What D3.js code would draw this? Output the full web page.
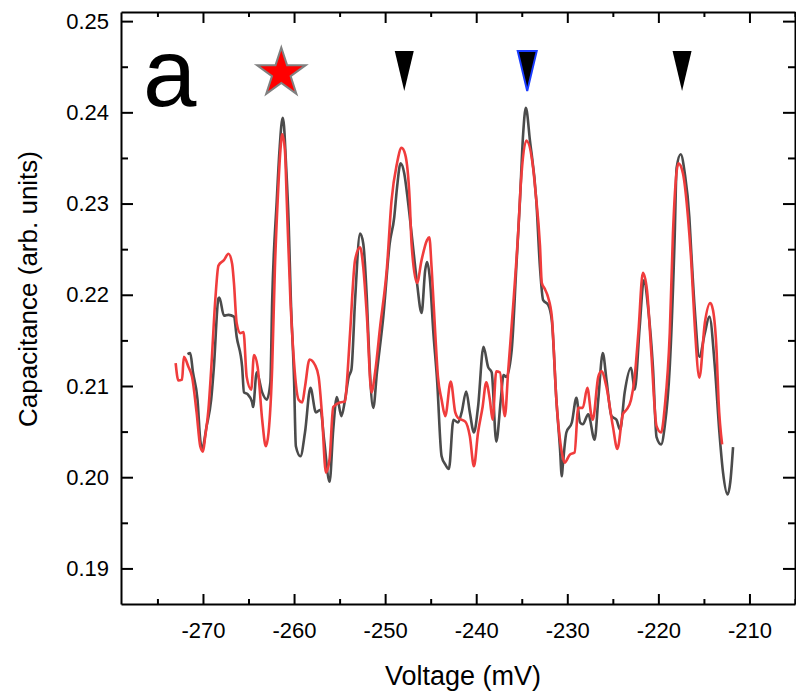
<!DOCTYPE html>
<html>
<head>
<meta charset="utf-8">
<script src="https://cdn.jsdelivr.net/npm/d3@7"></script>
<style>
  body { margin: 0; background: #fff; }
  text { font-family: "Liberation Sans", Arial, sans-serif; }
</style>
</head>
<body>
<div id="chart"></div>
<script>
// voltage (mV) / capacitance (arb. units)
const grayV = [-271.7, -271.4, -271.1, -270.6, -270.3, -270.1, -269.6, -269.1, -268.8, -268.3, -268.2, -267.7, -267.2, -266.6, -266.3, -265.7, -265.5, -265.1, -264.6, -264.5, -264.1, -263.5, -263.0, -262.6, -262.4, -261.9, -261.6, -261.25, -261.1, -260.9, -260.6, -260.35, -260.0, -259.8, -259.3, -258.8, -258.2, -257.6, -257.1, -256.7, -256.1, -255.7, -255.3, -254.8, -254.4, -254.0, -253.7, -253.3, -252.75, -252.4, -252.0, -251.7, -251.3, -250.9, -250.2, -249.5, -249.0, -248.7, -248.3, -247.9, -247.5, -246.9, -246.5, -246.0, -245.6, -245.4, -245.1, -244.7, -244.3, -243.8, -243.4, -243.0, -242.5, -242.0, -241.6, -241.1, -240.7, -240.25, -239.8, -239.2, -238.7, -238.3, -237.8, -237.3, -237.0, -236.7, -236.1, -235.6, -235.2, -234.85, -234.55, -234.1, -233.4, -233.0, -232.65, -232.1, -231.7, -231.2, -230.8, -230.6, -230.5, -230.1, -229.5, -229.0, -228.6, -228.3, -227.7, -227.0, -226.6, -226.1, -225.7, -225.15, -224.6, -224.2, -223.7, -223.0, -222.6, -222.05, -221.6, -221.1, -220.6, -220.2, -219.7, -219.3, -218.75, -218.2, -218.0, -217.55, -217.1, -216.6, -216.4, -216.0, -215.5, -214.9, -214.4, -213.8, -213.3, -212.9, -212.4, -212.1, -211.8];
const grayC = [0.2135, 0.2136, 0.2115, 0.2085, 0.2041, 0.2031, 0.2056, 0.2085, 0.2121, 0.2196, 0.2197, 0.2177, 0.2178, 0.2176, 0.2154, 0.2121, 0.2093, 0.2091, 0.2082, 0.2077, 0.2115, 0.2093, 0.2085, 0.2104, 0.2194, 0.2303, 0.2358, 0.2394, 0.2385, 0.2347, 0.2281, 0.2194, 0.2107, 0.2034, 0.2023, 0.2049, 0.2098, 0.2071, 0.2074, 0.2041, 0.1995, 0.2052, 0.2088, 0.2067, 0.2085, 0.2110, 0.2118, 0.2194, 0.2267, 0.2256, 0.2194, 0.2121, 0.2076, 0.2115, 0.2176, 0.2256, 0.2285, 0.2317, 0.2344, 0.2333, 0.2303, 0.2249, 0.2213, 0.2180, 0.2227, 0.2236, 0.2219, 0.2158, 0.2107, 0.2023, 0.2014, 0.2009, 0.2063, 0.2060, 0.2071, 0.2094, 0.2071, 0.2049, 0.2077, 0.2143, 0.2121, 0.2115, 0.2039, 0.2085, 0.2112, 0.2110, 0.2140, 0.2230, 0.2303, 0.2376, 0.2405, 0.2369, 0.2303, 0.2230, 0.2194, 0.2189, 0.2172, 0.2085, 0.2031, 0.2001, 0.2012, 0.2049, 0.2060, 0.2087, 0.2060, 0.2058, 0.2069, 0.2041, 0.2085, 0.2136, 0.2107, 0.2067, 0.2063, 0.2052, 0.2093, 0.2120, 0.2096, 0.2165, 0.2216, 0.2183, 0.2121, 0.2044, 0.2036, 0.2056, 0.2121, 0.2267, 0.2339, 0.2354, 0.2333, 0.2285, 0.2249, 0.2183, 0.2132, 0.2158, 0.2176, 0.2121, 0.2049, 0.2005, 0.1981, 0.1995, 0.2033];

const redV = [-273.0, -272.7, -272.3, -272.1, -271.6, -271.2, -270.7, -270.3, -270.0, -269.75, -269.4, -269.1, -268.65, -268.3, -267.7, -267.2, -266.8, -266.6, -266.3, -265.9, -265.55, -265.2, -264.7, -264.4, -264.0, -263.5, -263.1, -262.8, -262.4, -262.1, -261.8, -261.5, -261.3, -261.0, -260.8, -260.4, -260.1, -259.5, -259.1, -258.8, -258.3, -257.7, -257.3, -256.95, -256.5, -256.1, -255.7, -254.95, -254.4, -254.2, -253.85, -253.3, -252.75, -252.4, -252.0, -251.5, -251.1, -250.55, -249.8, -249.3, -248.7, -248.2, -247.8, -247.3, -247.1, -246.5, -246.0, -245.4, -245.15, -244.9, -244.5, -244.2, -243.8, -243.4, -242.8, -242.3, -242.0, -241.2, -240.7, -240.25, -239.8, -239.3, -238.9, -238.5, -238.2, -237.8, -237.4, -236.85, -236.5, -235.9, -235.4, -235.1, -234.5, -233.75, -233.5, -233.0, -232.8, -232.5, -232.1, -231.7, -231.2, -230.6, -230.3, -229.7, -229.2, -228.8, -228.3, -227.8, -227.35, -227.2, -226.6, -226.25, -225.7, -225.0, -224.5, -223.9, -223.5, -223.0, -222.6, -222.2, -221.7, -221.25, -220.8, -220.2, -219.7, -219.3, -218.75, -218.4, -217.8, -217.3, -216.75, -216.4, -216.0, -215.5, -214.9, -214.3, -214.0, -213.6, -213.4, -213.0];
const redC = [0.2125, 0.2106, 0.2107, 0.2132, 0.2121, 0.2110, 0.2071, 0.2034, 0.2028, 0.2045, 0.2074, 0.2118, 0.2194, 0.2232, 0.2238, 0.2245, 0.2234, 0.2213, 0.2169, 0.2158, 0.2159, 0.2110, 0.2096, 0.2134, 0.2121, 0.2063, 0.2034, 0.2049, 0.2121, 0.2230, 0.2303, 0.2358, 0.2376, 0.2358, 0.2303, 0.2194, 0.2140, 0.2085, 0.2082, 0.2099, 0.2129, 0.2123, 0.2110, 0.2071, 0.2005, 0.2020, 0.2077, 0.2082, 0.2083, 0.2104, 0.2158, 0.2238, 0.2252, 0.2230, 0.2176, 0.2093, 0.2115, 0.2165, 0.2230, 0.2303, 0.2344, 0.2361, 0.2354, 0.2303, 0.2256, 0.2213, 0.2238, 0.2260, 0.2263, 0.2230, 0.2158, 0.2110, 0.2085, 0.2067, 0.2105, 0.2071, 0.2065, 0.2061, 0.2045, 0.2012, 0.2049, 0.2077, 0.2104, 0.2085, 0.2063, 0.2116, 0.2115, 0.2067, 0.2115, 0.2194, 0.2267, 0.2322, 0.2369, 0.2339, 0.2314, 0.2254, 0.2213, 0.2207, 0.2197, 0.2176, 0.2085, 0.2027, 0.2016, 0.2025, 0.2027, 0.2076, 0.2076, 0.2098, 0.2067, 0.2063, 0.2110, 0.2116, 0.2099, 0.2056, 0.2031, 0.2069, 0.2074, 0.2085, 0.2110, 0.2158, 0.2224, 0.2205, 0.2140, 0.2056, 0.2049, 0.2077, 0.2158, 0.2267, 0.2344, 0.2333, 0.2285, 0.2238, 0.2165, 0.2109, 0.2169, 0.2191, 0.2183, 0.2136, 0.2085, 0.2036];

// peak markers: star, plain triangles, blue-outlined triangle
const markerV = [-261.4, -247.9, -234.4, -217.4];
const markerType = ["star", "tri", "triBlue", "tri"];
const markerC = 0.2443;

const xTicks = [-270, -260, -250, -240, -230, -220, -210];
const xMinor = [-275, -265, -255, -245, -235, -225, -215, -205];
const yTicks = [0.19, 0.20, 0.21, 0.22, 0.23, 0.24, 0.25];
const yMinor = [0.195, 0.205, 0.215, 0.225, 0.235, 0.245];

const width = 796, height = 696;
const margin = { top: 12, right: 1, bottom: 92, left: 121 };

const svg = d3.select("#chart").append("svg")
    .attr("width", width)
    .attr("height", height);

const x = d3.scaleLinear().domain([-279, -205]).range([margin.left, width - margin.right]);
const y = d3.scaleLinear().domain([0.1861, 0.251]).range([height - margin.bottom, margin.top]);

// curves
const line = d3.line()
    .x(d => x(d[0]))
    .y(d => y(d[1]))
    .curve(d3.curveMonotoneX);
const grayData = grayV.map((v, i) => [v, grayC[i]]);
const redData = redV.map((v, i) => [v, redC[i]]);

svg.append("path")
    .datum(grayData)
    .attr("fill", "none")
    .attr("stroke", "#4b4b4b")
    .attr("stroke-width", 2.6)
    .attr("stroke-linejoin", "round")
    .attr("d", line);

svg.append("path")
    .datum(redData)
    .attr("fill", "none")
    .attr("stroke", "#f03c3c")
    .attr("stroke-width", 2.6)
    .attr("stroke-linejoin", "round")
    .attr("d", line);

// axes, ticks pointing inward on all four sides
function styleAxis(g) {
    g.selectAll("path.domain").attr("stroke", "#000").attr("stroke-width", 2);
    g.selectAll(".tick line").attr("stroke", "#000").attr("stroke-width", 2);
    g.selectAll(".tick text")
        .attr("fill", "#000")
        .style("font-size", "22px")
        .style("font-family", "'Liberation Sans', Arial, sans-serif");
}

const bottom = height - margin.bottom;
const right = width - margin.right;

svg.append("g")
    .attr("transform", `translate(0,${bottom})`)
    .call(d3.axisBottom(x).tickValues(xTicks).tickSizeInner(-10).tickSizeOuter(0).tickPadding(18).tickFormat(d => String(d)))
    .call(styleAxis);
svg.append("g")
    .attr("transform", `translate(0,${bottom})`)
    .call(d3.axisBottom(x).tickValues(xMinor).tickSizeInner(-5).tickSizeOuter(0).tickFormat(""))
    .call(styleAxis)
    .select(".domain").remove();

svg.append("g")
    .attr("transform", `translate(0,${margin.top})`)
    .call(d3.axisTop(x).tickValues(xTicks).tickSizeInner(-11).tickSizeOuter(0).tickFormat(""))
    .call(styleAxis);
svg.append("g")
    .attr("transform", `translate(0,${margin.top})`)
    .call(d3.axisTop(x).tickValues(xMinor).tickSizeInner(-5).tickSizeOuter(0).tickFormat(""))
    .call(styleAxis)
    .select(".domain").remove();

svg.append("g")
    .attr("transform", `translate(${margin.left},0)`)
    .call(d3.axisLeft(y).tickValues(yTicks).tickSizeInner(-12).tickSizeOuter(0).tickPadding(12).tickFormat(d3.format(".2f")))
    .call(styleAxis);
svg.append("g")
    .attr("transform", `translate(${margin.left},0)`)
    .call(d3.axisLeft(y).tickValues(yMinor).tickSizeInner(-7).tickSizeOuter(0).tickFormat(""))
    .call(styleAxis)
    .select(".domain").remove();

svg.append("g")
    .attr("transform", `translate(${right},0)`)
    .call(d3.axisRight(y).tickValues(yTicks).tickSizeInner(-12).tickSizeOuter(0).tickFormat(""))
    .call(styleAxis);
svg.append("g")
    .attr("transform", `translate(${right},0)`)
    .call(d3.axisRight(y).tickValues(yMinor).tickSizeInner(-7).tickSizeOuter(0).tickFormat(""))
    .call(styleAxis)
    .select(".domain").remove();

// axis titles
svg.append("text")
    .attr("x", 463)
    .attr("y", 685)
    .attr("text-anchor", "middle")
    .style("font-size", "27px")
    .text("Voltage (mV)");

svg.append("text")
    .attr("transform", "translate(37,289) rotate(-90)")
    .attr("text-anchor", "middle")
    .style("font-size", "26px")
    .text("Capacitance (arb. units)");

// panel letter
svg.append("text")
    .attr("x", 143)
    .attr("y", 106)
    .style("font-size", "96px")
    .text("a");

// markers above the peaks
const triPath = "M-9.5,-20L9.5,-20L0,20Z";
svg.append("g").selectAll("path")
    .data(markerV.map((v, i) => ({ v: v, type: markerType[i] })))
    .join("path")
    .attr("transform", d => `translate(${x(d.v)},${y(markerC) - (d.type === "star" ? 0 : 2)})`)
    .attr("d", d => d.type === "star" ? d3.symbol().type(d3.symbolStar).size(740)() : triPath)
    .attr("fill", d => d.type === "star" ? "#ff0000" : "#000")
    .attr("stroke", d => d.type === "star" ? "#808080" : (d.type === "triBlue" ? "#1a3cff" : "none"))
    .attr("stroke-width", 2)
    .attr("stroke-linejoin", "miter");
</script>
</body>
</html>
